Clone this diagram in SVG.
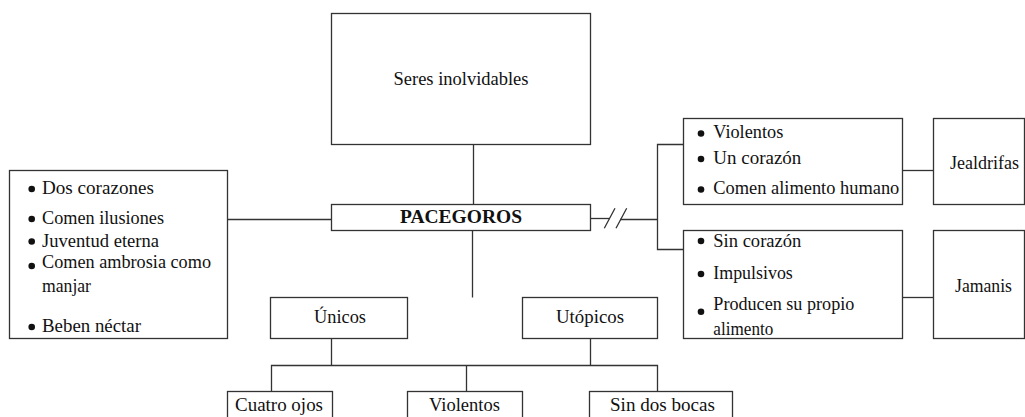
<svg xmlns="http://www.w3.org/2000/svg" width="1025" height="417" viewBox="0 0 1025 417">
<style>
.box{fill:#fff;stroke:#333;stroke-width:1.3}
.ln{fill:none;stroke:#333;stroke-width:1.3}
text{font-family:'Liberation Serif','Times New Roman','DejaVu Serif',serif;font-size:18px;fill:#111}
.c{text-anchor:middle}
.b{font-weight:bold;font-size:19px}
.dot{fill:#111}
</style>
<rect width="1025" height="417" fill="#fff"/>
<g id="connectors">
<path class="ln" d="M473.5 144.5V204.5"/>
<path class="ln" d="M227.5 219.5H331.5"/>
<path class="ln" d="M472.5 230.5V297.5"/>
<path class="ln" d="M590.5 218.5H610"/>
<path class="ln" d="M604.3 228.3L615 208.3M616 228.3L626.7 208.3"/>
<path class="ln" d="M620 219.5H657.5"/>
<path class="ln" d="M683.5 144.5H657.5V249.5H683.5"/>
<path class="ln" d="M902.5 170.5H933.5"/>
<path class="ln" d="M902.5 297.5H933.5"/>
<path class="ln" d="M331.5 338.5V365.5M590.5 338.5V365.5"/>
<path class="ln" d="M271.5 391.5V365.5H657.5V391.5M466.5 365.5V391.5"/>
</g>
<g id="seres">
<rect class="box" x="331.5" y="13.5" width="259" height="131"/>
<text class="c" x="461" y="85" font-size="18.5" textLength="135" lengthAdjust="spacingAndGlyphs">Seres inolvidables</text>
</g>
<g id="pacegoros">
<rect class="box" x="331.5" y="204.5" width="259" height="26"/>
<text class="c b" x="461" y="223" textLength="122" lengthAdjust="spacingAndGlyphs">PACEGOROS</text>
</g>
<g id="caracteristicas">
<rect class="box" x="9.5" y="170.5" width="218" height="168"/>
<circle class="dot" cx="31.7" cy="189" r="3.3"/>
<circle class="dot" cx="31.7" cy="219" r="3.3"/>
<circle class="dot" cx="31.7" cy="241.5" r="3.3"/>
<circle class="dot" cx="31.7" cy="266" r="3.3"/>
<circle class="dot" cx="31.7" cy="327" r="3.3"/>
<text x="42" y="194.3" textLength="112" lengthAdjust="spacingAndGlyphs">Dos corazones</text>
<text x="42" y="224.3" textLength="122" lengthAdjust="spacingAndGlyphs">Comen ilusiones</text>
<text x="42" y="246.7" textLength="117" lengthAdjust="spacingAndGlyphs">Juventud eterna</text>
<text x="42" y="268.3" textLength="169" lengthAdjust="spacingAndGlyphs">Comen ambrosia como</text>
<text x="42" y="291.7" textLength="49" lengthAdjust="spacingAndGlyphs">manjar</text>
<text x="42" y="331.7" textLength="99" lengthAdjust="spacingAndGlyphs">Beben néctar</text>
</g>
<g id="jealdrifas-rasgos">
<rect class="box" x="683.5" y="118.5" width="219" height="86"/>
<circle class="dot" cx="701" cy="133.5" r="3.3"/>
<circle class="dot" cx="701" cy="159" r="3.3"/>
<circle class="dot" cx="701" cy="189.5" r="3.3"/>
<text x="713.3" y="138.3" textLength="70" lengthAdjust="spacingAndGlyphs">Violentos</text>
<text x="713.3" y="164.3" textLength="88" lengthAdjust="spacingAndGlyphs">Un corazón</text>
<text x="713.3" y="194" textLength="186" lengthAdjust="spacingAndGlyphs">Comen alimento humano</text>
</g>
<g id="jealdrifas">
<rect class="box" x="933.5" y="118.5" width="91" height="86"/>
<text x="950" y="169" textLength="69" lengthAdjust="spacingAndGlyphs">Jealdrifas</text>
</g>
<g id="jamanis-rasgos">
<rect class="box" x="683.5" y="230.5" width="219" height="108"/>
<circle class="dot" cx="701" cy="241" r="3.3"/>
<circle class="dot" cx="701" cy="274" r="3.3"/>
<circle class="dot" cx="701" cy="311.7" r="3.3"/>
<text x="713.3" y="246.7" textLength="88" lengthAdjust="spacingAndGlyphs">Sin corazón</text>
<text x="713.3" y="279" textLength="79.5" lengthAdjust="spacingAndGlyphs">Impulsivos</text>
<text x="713.3" y="310" textLength="141" lengthAdjust="spacingAndGlyphs">Producen su propio</text>
<text x="713.3" y="335" textLength="60" lengthAdjust="spacingAndGlyphs">alimento</text>
</g>
<g id="jamanis">
<rect class="box" x="933.5" y="230.5" width="91" height="108"/>
<text x="955" y="291.5" textLength="57" lengthAdjust="spacingAndGlyphs">Jamanis</text>
</g>
<g id="unicos">
<rect class="box" x="270.5" y="297.5" width="137" height="41"/>
<text class="c" x="340" y="323.3" textLength="52" lengthAdjust="spacingAndGlyphs">Únicos</text>
</g>
<g id="utopicos">
<rect class="box" x="522.5" y="297.5" width="135" height="41"/>
<text class="c" x="590" y="323.3" textLength="68" lengthAdjust="spacingAndGlyphs">Utópicos</text>
</g>
<g id="cuatro-ojos">
<rect class="box" x="227.5" y="391.5" width="105" height="40"/>
<text x="235" y="410.5" textLength="88" lengthAdjust="spacingAndGlyphs">Cuatro ojos</text>
</g>
<g id="violentos">
<rect class="box" x="407.5" y="391.5" width="115" height="40"/>
<text x="429" y="410.5" textLength="71" lengthAdjust="spacingAndGlyphs">Violentos</text>
</g>
<g id="sin-dos-bocas">
<rect class="box" x="589.5" y="391.5" width="143" height="40"/>
<text x="610" y="410.5" textLength="105" lengthAdjust="spacingAndGlyphs">Sin dos bocas</text>
</g>
</svg>
